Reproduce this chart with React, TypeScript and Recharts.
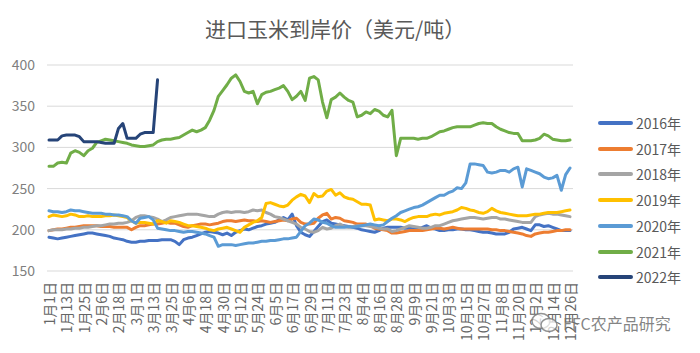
import { LineChart, Line, XAxis, YAxis, CartesianGrid } from "recharts";

// 进口玉米到岸价（美元/吨），每 3 天取一个读数，从 1月1日 到 12月26日
const tickLabels = [
  "1月1日", "1月13日", "1月25日", "2月6日", "2月18日", "3月1日", "3月13日",
  "3月25日", "4月6日", "4月18日", "4月30日", "5月12日", "5月24日", "6月5日",
  "6月17日", "6月29日", "7月11日", "7月23日", "8月4日", "8月16日", "8月28日",
  "9月9日", "9月21日", "10月3日", "10月15日", "10月27日", "11月8日", "11月20日",
  "12月2日", "12月14日", "12月26日",
];
const yTicks = [150, 200, 250, 300, 350, 400];

const s2016 = [
  191, 190, 189, 190, 191, 192, 193, 194, 195, 196,
  196, 195, 194, 193, 192, 190, 189, 188, 186, 185,
  185, 186, 186, 187, 187, 187, 188, 188, 188, 186,
  182, 188, 190, 191, 193, 195, 197, 198, 197, 196,
  194, 196, 193, 197, 199, 201, 200, 202, 204, 205,
  207, 208, 209, 212, 215, 212, 219, 205, 197, 194,
  192, 198, 204, 210, 212, 208, 207, 206, 205, 204,
  203, 202, 200, 199, 198, 197, 199, 202, 203, 203,
  203, 203, 202, 202, 201, 201, 203, 205, 202, 201,
  199, 199, 200, 200, 201, 201, 200, 200, 199, 198,
  197, 197, 196, 195, 195, 195, 197, 201, 202, 203,
  201, 199, 206, 206, 204, 205, 203, 201, 199, 199,
  199,
];
const s2017 = [
  199, 200, 201, 201, 202, 203, 203, 204, 205, 205,
  205, 205, 204, 204, 204, 203, 203, 203, 203, 200,
  203, 205, 205, 206, 207, 207, 208, 209, 208, 208,
  206, 204, 203, 205, 206, 207, 207, 206, 207, 208,
  210, 211, 211, 210, 211, 212, 211, 211, 210, 211,
  210, 209, 210, 211, 212, 211, 213, 214, 209, 207,
  207, 208, 214, 218, 220, 213, 215, 214, 211, 210,
  209, 207, 207, 207, 205, 202, 201, 200, 199, 196,
  196, 197, 198, 199, 199, 199, 199, 200, 201, 202,
  202, 201, 202, 203, 202, 201, 201, 201, 201, 201,
  201, 201, 200, 200, 199, 199, 198, 197, 196, 195,
  193, 192, 195, 196, 197, 197, 198, 199, 199, 200,
  200,
];
const s2018 = [
  199, 200, 200, 200, 201, 201, 202, 202, 203, 203,
  204, 205, 205, 206, 207, 207, 208, 208, 209, 211,
  215, 217, 217, 216, 215, 213, 210, 212, 215, 216,
  217, 218, 219, 219, 219, 218, 217, 216, 216, 219,
  221, 222, 221, 222, 222, 221, 222, 224, 223, 224,
  221, 219, 216, 215, 213, 211, 209, 207, 203, 201,
  198, 197, 199, 203, 201, 202, 205, 207, 204, 203,
  204, 205, 205, 205, 204, 203, 202, 201, 201, 198,
  199, 201, 203, 205, 204, 203, 202, 202, 203, 205,
  205, 207, 209, 211, 212, 213, 214, 215, 215, 214,
  213, 214, 215, 215, 213, 213, 212, 211, 210, 209,
  209, 209, 216, 218, 219, 220, 219, 219, 218, 217,
  216,
];
const s2019 = [
  216, 218, 217, 216, 217, 219, 218, 216, 216, 217,
  216, 216, 216, 217, 217, 218, 217, 216, 215, 211,
  208, 209, 209, 208, 207, 211, 210, 208, 211, 210,
  209, 207, 205, 205, 204, 203, 202, 200, 199, 201,
  202, 203, 201, 199, 197, 203, 206, 209, 211, 215,
  232, 233, 231, 229, 228, 230, 236, 240, 243, 241,
  233, 244, 240, 241, 247, 249, 242, 245, 240, 238,
  237, 234, 231, 231, 230, 212, 213, 212, 211, 213,
  213, 212, 210, 213, 215, 216, 216, 216, 218, 219,
  218, 220, 221, 222, 224, 227, 226, 224, 223, 221,
  220, 222, 226, 223, 221, 220, 219, 218, 217, 217,
  217, 218, 219, 219, 220, 221, 221, 221, 222, 223,
  224,
];
const s2020 = [
  223, 222, 222, 221, 222, 224, 223, 223, 222, 221,
  220, 220, 220, 219, 219, 218, 218, 217, 216, 211,
  208, 214, 215, 216, 212, 202, 201, 200, 199, 199,
  198, 197, 198, 198, 197, 196, 195, 193, 191, 180,
  182, 182, 182, 181, 182, 183, 184, 184, 185, 186,
  186, 187, 187, 188, 189, 189, 190, 191, 198, 205,
  208, 213, 212, 209, 208, 205, 203, 203, 203, 204,
  203, 204, 205, 206, 207, 206, 205, 206, 210, 214,
  217, 221, 223, 225, 227, 228, 230, 233, 236, 239,
  242, 242, 245, 247, 251, 250, 257, 280, 280, 279,
  278, 270, 269, 270, 272, 272, 270, 274, 276, 252,
  274, 272, 270, 268, 264, 262, 263, 266, 248, 267,
  275,
];
const s2021 = [
  277, 277, 281, 282, 281, 293, 296, 294, 290, 296,
  299, 306, 308, 310, 309, 308, 307, 306, 305, 303,
  302, 301, 301, 302, 303, 307, 309, 310, 310, 311,
  312, 315, 318, 321, 319, 321, 324, 333, 345, 362,
  369, 376, 384, 388, 380, 368, 366, 368, 353, 364,
  367, 368, 370, 372, 375, 368, 358, 362, 368, 357,
  384, 386, 382, 355, 336, 358, 361, 366, 361, 357,
  355, 337, 339, 343, 341, 346, 344, 339, 337, 345,
  290, 311, 311, 311, 311, 310, 311, 311, 313, 316,
  319, 320, 322, 324, 325, 325, 325, 325, 327, 329,
  330, 329, 329, 325, 322, 320, 318, 317, 317, 308,
  308, 308, 309, 311, 316, 314, 310, 309, 308, 308,
  309,
];
const s2022 = [
  309, 309, 309, 314, 315, 315, 315, 313, 307, 307,
  307, 307, 306, 305, 305, 305, 323, 329, 311, 311,
  311, 316, 318, 318, 318, 382,
];

const series = [
  { key: "y2016", name: "2016年", values: s2016, color: "#4472C4" },
  { key: "y2017", name: "2017年", values: s2017, color: "#ED7D31" },
  { key: "y2018", name: "2018年", values: s2018, color: "#A5A5A5" },
  { key: "y2019", name: "2019年", values: s2019, color: "#FFC000" },
  { key: "y2020", name: "2020年", values: s2020, color: "#5B9BD5" },
  { key: "y2021", name: "2021年", values: s2021, color: "#70AD47" },
  { key: "y2022", name: "2022年", values: s2022, color: "#264478" },
];

const STEP = 3;
const FONT = '"Noto Sans CJK SC", "Noto Sans", sans-serif';

const data = s2016.map((_, i) => {
  const row: Record<string, number | null> = { day: i * STEP };
  series.forEach((s) => {
    row[s.key] = i < s.values.length ? s.values[i] : null;
  });
  return row;
});

function DateTick({ x, y, payload }: any) {
  return (
    <text
      transform={`translate(${x},${y}) rotate(-90)`}
      textAnchor="end"
      dominantBaseline="central"
      fill="#666"
      fontSize={14}
      fontFamily={FONT}
    >
      {tickLabels[Math.round(payload.value / 12)]}
    </text>
  );
}

export default function App() {
  return (
    <div
      style={{
        position: "absolute",
        left: 0,
        top: 0,
        width: 700,
        height: 353,
        background: "#fff",
        fontFamily: FONT,
      }}
    >
      <div
        style={{
          position: "absolute",
          left: 205,
          top: 15,
          fontSize: 21,
          lineHeight: "26px",
          color: "#595959",
          whiteSpace: "nowrap",
        }}
      >
        进口玉米到岸价（美元/吨）
      </div>

      <LineChart
        width={700}
        height={353}
        data={data}
        margin={{ top: 65, right: 127, bottom: 0, left: 0 }}
      >
        <CartesianGrid vertical={false} stroke="#d9d9d9" />
        <XAxis
          dataKey="day"
          type="number"
          domain={[0, 360]}
          ticks={tickLabels.map((_, i) => i * 12)}
          interval={0}
          padding={{ left: 2, right: 3 }}
          height={82}
          axisLine={false}
          tickLine={false}
          tickMargin={5}
          tick={<DateTick />}
        />
        <YAxis
          type="number"
          domain={[150, 400]}
          ticks={yTicks}
          width={47}
          axisLine={false}
          tickLine={false}
          tickMargin={6}
          tick={{ fill: "#7f7f7f", fontSize: 14, fontFamily: FONT }}
        />
        {series.map((s) => (
          <Line
            key={s.key}
            type="linear"
            dataKey={s.key}
            name={s.name}
            stroke={s.color}
            strokeWidth={3}
            strokeLinejoin="round"
            strokeLinecap="round"
            dot={false}
            isAnimationActive={false}
          />
        ))}
      </LineChart>

      {series.map((s, i) => (
        <div
          key={s.key}
          style={{
            position: "absolute",
            left: 598,
            top: 113 + i * 25.7,
            height: 20,
            display: "flex",
            alignItems: "center",
            fontSize: 14,
            color: "#595959",
          }}
        >
          <span
            style={{
              display: "inline-block",
              width: 35,
              height: 4,
              borderRadius: 2,
              background: s.color,
              marginRight: 3,
            }}
          />
          {s.name}
        </div>
      ))}

      <div
        style={{
          position: "absolute",
          left: 530,
          top: 311,
          display: "flex",
          alignItems: "center",
          fontSize: 16,
          color: "rgba(110,110,110,0.85)",
          whiteSpace: "nowrap",
        }}
      >
        <svg width={30} height={22} style={{ marginRight: 3 }}>
          <ellipse cx={11} cy={9} rx={9} ry={7.5} fill="rgba(255,255,255,0.7)" stroke="rgba(120,120,120,0.8)" strokeWidth={1.5} />
          <ellipse cx={19} cy={13} rx={8} ry={6.5} fill="rgba(255,255,255,0.7)" stroke="rgba(120,120,120,0.8)" strokeWidth={1.5} />
        </svg>
        FFC农产品研究
      </div>
    </div>
  );
}
